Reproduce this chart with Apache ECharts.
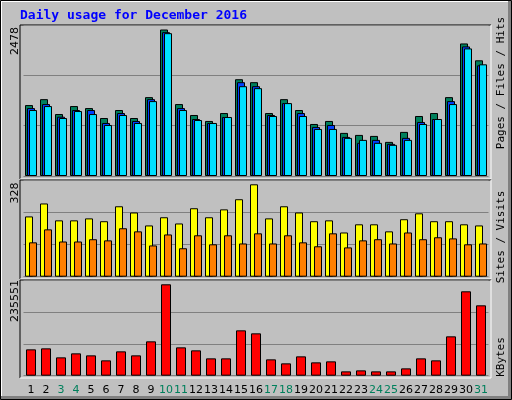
<!DOCTYPE html>
<html><head><meta charset="utf-8">
<script src="https://cdn.jsdelivr.net/npm/echarts@6/dist/echarts.min.js"></script>
<style>html,body{margin:0;padding:0;background:#c0c0c0}#c{width:512px;height:400px}</style>
</head><body><div id="c"></div>
<script>
const days = ['1','2','3','4','5','6','7','8','9','10','11','12','13','14','15','16','17','18','19','20','21','22','23','24','25','26','27','28','29','30','31'];
const weekend = ['3','4','10','11','17','18','24','25','31'];
const hits  = [1200,1300,1048,1183,1149,981,1116,981,1334,2478,1217,1032,931,1065,1637,1587,1065,1300,1116,880,931,729,695,678,577,746,1015,1065,1334,2242,1957];
const files = [1149,1217,1003,1116,1116,897,1065,931,1300,2433,1149,964,897,998,1587,1519,1032,1233,1065,830,863,661,561,611,544,645,914,964,1267,2192,1872];
const pages = [1116,1183,981,1099,1048,863,1032,897,1267,2416,1116,947,897,998,1519,1486,1015,1233,1015,796,796,645,611,561,527,611,880,964,1217,2158,1889];
const visits= [214,260,200,200,207,197,250,228,182,211,189,243,211,239,275,328,207,250,228,197,200,157,186,186,161,204,225,197,197,186,182];
const sites = [122,168,125,125,133,129,172,161,111,150,101,147,115,147,118,154,118,147,122,108,154,104,129,133,118,157,133,140,136,115,118];
const kbytes= [67914,70495,47283,57600,52442,39546,62758,52442,88549,235551,73074,65337,44704,44704,116919,109182,42125,31809,49863,34388,36967,11176,13755,11176,11176,18913,44704,39546,101445,217504,181397];
const maxLabels = ['2478','328','235551'];

const chart = echarts.init(document.getElementById('c'));
const M1 = 2478*151/146.5, M2 = 328*96/92.4, M3 = 235551*95/91.4;
const grids = [
  {left:23.5,right:23.5,top:25,height:151},
  {left:23.5,right:23.5,top:180.7,height:96},
  {left:23.5,right:23.5,top:280.7,height:95}
];
function xAx(i){return {type:'category',gridIndex:i,data:days,axisLine:{show:false},axisTick:{show:false},
  axisLabel:{show:i===2,margin:9,fontFamily:'DejaVu Sans',fontSize:11,interval:0,
    formatter:v=>weekend.includes(v)?'{w|'+v+'}':'{n|'+v+'}',
    rich:{w:{color:'#00805c',fontFamily:'DejaVu Sans',fontSize:11},n:{color:'#000',fontFamily:'DejaVu Sans',fontSize:11}}}};}
function yAx(i,M){return {type:'value',gridIndex:i,min:0,max:M,interval:M/3,axisLabel:{show:false},axisLine:{show:false},axisTick:{show:false},
  splitLine:{show:true,lineStyle:{color:'#808080',width:1}}};}
const bs = c=>({color:c,borderColor:'#000',borderWidth:1});
function frame(y1,y2){return [
  {type:'line',shape:{x1:20,y1:y1,x2:491,y2:y1},style:{stroke:'#000',lineWidth:1}},
  {type:'line',shape:{x1:20,y1:y1,x2:20,y2:y2},style:{stroke:'#000',lineWidth:1}},
  {type:'line',shape:{x1:20,y1:y2,x2:491,y2:y2},style:{stroke:'#fff',lineWidth:1}},
  {type:'line',shape:{x1:491,y1:y1,x2:491,y2:y2},style:{stroke:'#fff',lineWidth:1}}];}
function vtext(x,y,rich,text){return {type:'text',x:x,y:y,rotation:Math.PI/2,
  style:{text:text,rich:rich,align:'center',verticalAlign:'middle',font:'11px DejaVu Sans Mono'}};}
const mono={fontFamily:'DejaVu Sans Mono',fontSize:11};
chart.setOption({
  animation:false,
  backgroundColor:'#c0c0c0',
  grid:grids,
  xAxis:[xAx(0),xAx(1),xAx(2)],
  yAxis:[yAx(0,M1),yAx(1,M2),yAx(2,M3)],
  graphic:[
    {type:'rect',shape:{x:0.5,y:0.5,width:511,height:399},style:{fill:'none',stroke:'#000',lineWidth:1}},
    {type:'line',shape:{x1:1,y1:1.5,x2:510,y2:1.5},style:{stroke:'#fff',lineWidth:1}},
    {type:'line',shape:{x1:1.5,y1:1,x2:1.5,y2:396},style:{stroke:'#fff',lineWidth:1}},
    {type:'rect',shape:{x:1,y:396,width:510,height:3},style:{fill:'#808080'}},
    {type:'rect',shape:{x:508,y:1,width:3,height:398},style:{fill:'#808080'}},
    ...frame(25,179),...frame(180,279),...frame(280,378),
    {type:'text',x:20,y:9,style:{text:'Daily usage for December 2016',fill:'#0000ff',font:'bold 13px DejaVu Sans Mono'}},
    vtext(15,41,{a:{color:'#000',fontFamily:'DejaVu Sans',fontSize:11}},'{a|'+maxLabels[0]+'}'),
    vtext(15,193,{a:{color:'#000',fontFamily:'DejaVu Sans',fontSize:11}},'{a|'+maxLabels[1]+'}'),
    vtext(15,301,{a:{color:'#000',fontFamily:'DejaVu Sans',fontSize:11}},'{a|'+maxLabels[2]+'}'),
    vtext(501,83,{p:{color:'#00c8e0',...mono},f:{color:'#0040ff',...mono},h:{color:'#00805c',...mono},s:{color:'#000',...mono}},'{p|Pages}{s| / }{f|Files}{s| / }{h|Hits}'),
    vtext(501,237,{a:{color:'#ff8000',...mono},b:{color:'#ffff00',...mono},s:{color:'#000',...mono}},'{a|Sites}{s| / }{b|Visits}'),
    vtext(501,357,{a:{color:'#ff0000',...mono}},'{a|KBytes}')
  ],
  series:[
    {type:'bar',xAxisIndex:0,yAxisIndex:0,data:hits,barWidth:8,barGap:'-75%',itemStyle:bs('#00805c')},
    {type:'bar',xAxisIndex:0,yAxisIndex:0,data:files,barWidth:8,barGap:'-75%',itemStyle:bs('#0040ff')},
    {type:'bar',xAxisIndex:0,yAxisIndex:0,data:pages,barWidth:8,barGap:'-75%',itemStyle:bs('#00e0ff')},
    {type:'bar',xAxisIndex:1,yAxisIndex:1,data:visits,barWidth:8,barGap:'-50%',itemStyle:bs('#ffff00')},
    {type:'bar',xAxisIndex:1,yAxisIndex:1,data:sites,barWidth:8,barGap:'-50%',itemStyle:bs('#ff8000')},
    {type:'bar',xAxisIndex:2,yAxisIndex:2,data:kbytes,barWidth:10,itemStyle:bs('#ff0000')}
  ]
});
</script></body></html>
